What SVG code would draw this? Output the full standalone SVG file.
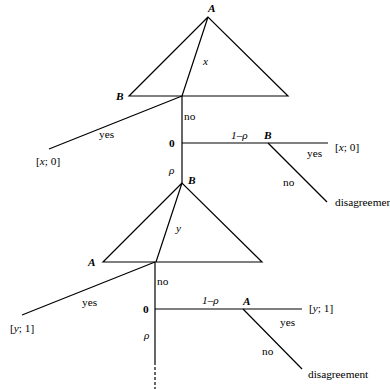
<svg xmlns="http://www.w3.org/2000/svg" width="390" height="389" viewBox="0 0 390 389">
<style>
.t text{font-size:11.3px;fill:#000}
.i{font-style:italic}
.b{font-weight:bold}
.e{stroke:#000;stroke-width:1.2;fill:none}
</style>
<rect width="390" height="389" fill="#fff"/>
<g id="connectors">
<path class="e" d="M182,96 L182,183"/>
<path class="e" d="M182,96 L49,149"/>
<path class="e" d="M182,143 L328,143"/>
<path class="e" d="M268,143 L327,202"/>
<path class="e" d="M155,262 L155,362"/>
<path class="e" d="M155,362 L155,389" stroke-dasharray="3,2"/>
<path class="e" d="M155,262 L22,315"/>
<path class="e" d="M155,309 L302,309"/>
<path class="e" d="M243,309 L302,369"/>
</g>
<g class="t" font-family="Liberation Serif, Times New Roman, serif">
<g id="triangle-A">
<path class="e" d="M208,17 L129,96 L288,96 Z M208,17 L182,96"/>
<text class="i b" x="208" y="12">A</text>
<text class="i b" x="116" y="100">B</text>
<text class="i" x="203" y="65">x</text>
</g>
<g id="triangle-B">
<path class="e" d="M182,183 L103,262 L262,262 Z M182,183 L156,262"/>
<text class="i b" x="188" y="184">B</text>
<text class="i b" x="88" y="266">A</text>
<text class="i" x="176" y="232">y</text>
</g>
<g id="labels-top">
<text x="184" y="120">no</text>
<text x="99" y="138">yes</text>
<text x="36" y="165">[<tspan class="i">x</tspan>; 0]</text>
<text class="b" x="169" y="147">0</text>
<text class="i" x="169" y="174">ρ</text>
<text class="i" x="231" y="139">1–ρ</text>
<text class="i b" x="264" y="139">B</text>
<text x="335" y="151">[<tspan class="i">x</tspan>; 0]</text>
<text x="307" y="157">yes</text>
<text x="283" y="186">no</text>
<text x="335" y="206">disagreement</text>
</g>
<g id="labels-bottom">
<text x="157" y="285">no</text>
<text x="82" y="306">yes</text>
<text x="10" y="332">[<tspan class="i">y</tspan>; 1]</text>
<text class="b" x="143" y="313">0</text>
<text class="i" x="144" y="339">ρ</text>
<text class="i" x="202" y="304">1–ρ</text>
<text class="i b" x="243" y="305">A</text>
<text x="309" y="312">[<tspan class="i">y</tspan>; 1]</text>
<text x="280" y="326">yes</text>
<text x="262" y="355">no</text>
<text x="308" y="378">disagreement</text>
</g>
</g>
</svg>
